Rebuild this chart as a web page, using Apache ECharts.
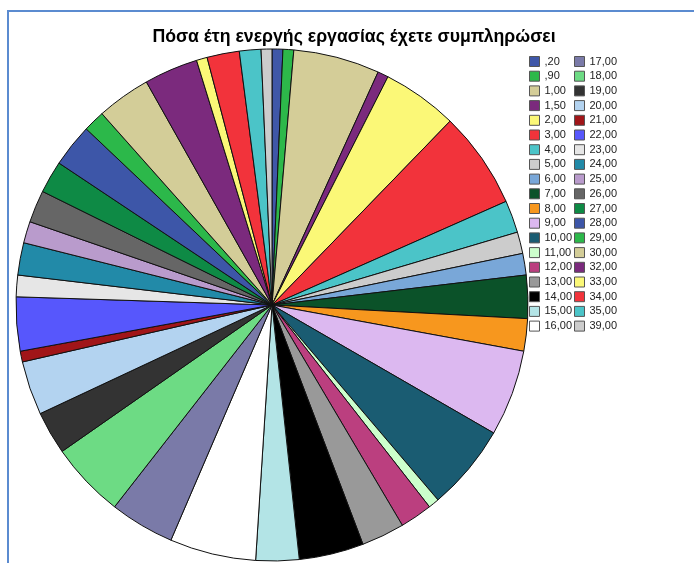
<!DOCTYPE html>
<html>
<head>
<meta charset="utf-8">
<script src="https://cdn.jsdelivr.net/npm/echarts@6/dist/echarts.min.js"></script>
<style>
html,body{margin:0;padding:0;background:#fff;}
#c{width:694px;height:563px;}
</style>
</head>
<body>
<div id="c"></div>
<script>
// Categories (years of work) and counts
const categories = [",20", ",90", "1,00", "1,50", "2,00", "3,00", "4,00", "5,00", "6,00", "7,00",
  "8,00", "9,00", "10,00", "11,00", "12,00", "13,00", "14,00", "15,00", "16,00",
  "17,00", "18,00", "19,00", "20,00", "21,00", "22,00", "23,00", "24,00", "25,00", "26,00",
  "27,00", "28,00", "29,00", "30,00", "32,00", "33,00", "34,00", "35,00", "39,00"];
const counts = [1, 1, 8, 1, 7, 9, 3, 2, 2, 4,
  3, 8, 8, 1, 3, 4, 6, 4, 8,
  6, 7, 4, 5, 1, 5, 2, 3, 2, 3,
  3, 4, 2, 5, 5, 1, 3, 2, 1];
const colors = ["#3f57a8", "#2db84a", "#d4cd98", "#7b2a7d", "#fbf877", "#f2333b", "#4bc4c8", "#cccccc", "#79a7d8", "#0b5229",
  "#f7971e", "#dcb8f0", "#1a5c72", "#ccffcc", "#bb3f7f", "#999999", "#000000", "#b3e4e6", "#ffffff",
  "#7a7aa8", "#6ddb84", "#333333", "#b3d3f0", "#a11518", "#5757fc", "#e6e6e6", "#228aa8", "#b99bcc", "#666666",
  "#0e8a45", "#3d56a8", "#2cb84a", "#d3cd98", "#7b2a7d", "#fbf877", "#f2333b", "#4bc4c8", "#cccccc"];
const titleText = "Πόσα έτη ενεργής εργασίας έχετε συμπληρώσει";

const data = categories.map((c, i) => ({name: c, value: counts[i], itemStyle: {color: colors[i]}}));
const leftNames = categories.slice(0, 19);
const rightNames = categories.slice(19);

const legendCommon = {
  orient: 'vertical',
  top: 56,
  padding: 0,
  itemWidth: 10,
  itemHeight: 10,
  itemGap: 3.7,
  itemTextGap: 4,
  icon: 'rect',
  selectedMode: false,
  itemStyle: {borderColor: '#555', borderWidth: 1},
  textStyle: {fontFamily: 'Liberation Sans, Arial, sans-serif', fontSize: 11, lineHeight: 11, color: '#222', padding: 0}
};

const chart = echarts.init(document.getElementById('c'), null, {renderer: 'canvas'});
chart.setOption({
  animation: false,
  backgroundColor: '#fff',
  title: {
    text: titleText,
    left: 354, top: 28, textAlign: 'center', padding: 0,
    textStyle: {fontFamily: 'Liberation Sans, Arial, sans-serif', fontSize: 17.7, fontWeight: 'bold', color: '#000'}
  },
  graphic: [{
    type: 'rect', silent: true,
    shape: {x: 8, y: 11, width: 700, height: 600},
    style: {fill: 'none', stroke: '#5b8bd0', lineWidth: 2}
  }],
  legend: [
    Object.assign({}, legendCommon, {left: 529, data: leftNames}),
    Object.assign({}, legendCommon, {left: 574, data: rightNames})
  ],
  series: [{
    type: 'pie',
    center: [272, 305],
    radius: [0, 256],
    startAngle: 90,
    clockwise: true,
    avoidLabelOverlap: false,
    label: {show: false},
    labelLine: {show: false},
    emphasis: {disabled: true},
    itemStyle: {borderColor: '#111', borderWidth: 1},
    data: data
  }]
});
</script>
</body>
</html>
